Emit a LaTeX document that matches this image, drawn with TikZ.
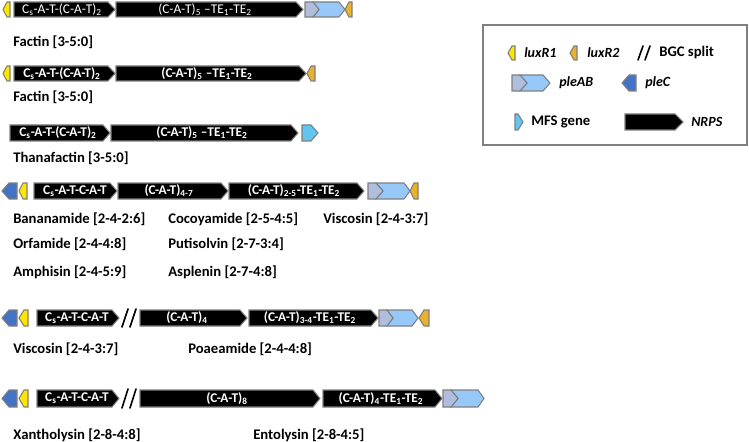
\documentclass[tikz,border=0pt]{standalone}
\usepackage{fontspec}
\setmainfont{Carlito}

\definecolor{luxyellow}{RGB}{255,230,0}
\definecolor{luxgold}{RGB}{234,178,44}
\definecolor{plea}{RGB}{176,190,222}
\definecolor{pleb}{RGB}{150,200,250}
\definecolor{plec}{RGB}{68,114,196}
\definecolor{mfsblue}{RGB}{98,196,240}
\definecolor{genegray}{RGB}{127,127,127}

\tikzset{
  gene/.style={draw=genegray, line width=0.8},
  nrps/.style={gene, fill=black},
  luxrone/.style={gene, fill=luxyellow},
  luxrtwo/.style={gene, fill=luxgold},
  pleAgene/.style={gene, fill=plea},
  pleBgene/.style={gene, fill=pleb},
  pleCgene/.style={gene, fill=plec},
  mfsgene/.style={gene, fill=mfsblue},
  split/.style={line width=1.2, line cap=round},
  domtext/.style={text=white, inner sep=0.75pt, font=\fontsize{10}{12}\selectfont\bfseries},
  domthin/.style={text=white, inner sep=0.75pt, font=\fontsize{10}{12}\selectfont},
  lbl/.style={anchor=west, inner sep=0.75pt, font=\fontsize{11}{13}\selectfont\bfseries},
  keytext/.style={anchor=west, inner sep=0.75pt, font=\fontsize{10.5}{13}\selectfont\bfseries\itshape},
}

\begin{document}
\begin{tikzpicture}[x=0.75pt,y=0.75pt,yscale=-1,xscale=1]
\useasboundingbox (0,0) rectangle (749,442);

%Row 1: Factin
\draw [luxrone] (10,2) -- (10,17) -- (7,17) -- (3,9.5) -- (7,2) -- cycle ;
\draw [nrps] (14,2) -- (108,2) -- (115,9.5) -- (108,17) -- (14,17) -- cycle ;
\draw [nrps] (116,2) -- (296,2) -- (303,9.5) -- (296,17) -- (116,17) -- cycle ;
\draw [pleBgene] (313,2) -- (339,2) -- (345,9.5) -- (339,17) -- (313,17) -- (319,9.5) -- cycle ;
\draw [pleAgene] (305,2) -- (313,2) -- (319,9.5) -- (313,17) -- (305,17) -- cycle ;
\draw [luxrtwo] (352,2) -- (352,17) -- (349,17) -- (345,9.5) -- (349,2) -- cycle ;
% Text Node
\draw (62,9.5) node [domthin] (facAone) {C\textsubscript{s}-A-T-(C-A-T)\textsubscript{2}};
\draw (205,9.5) node [domthin] (facAtwo) {(C-A-T)\textsubscript{5} --TE\textsubscript{1}-TE\textsubscript{2}};
\draw (12,42) node [lbl] (factinA) {Factin [3-5:0]};

%Row 2: Factin
\draw [luxrone] (10,66) -- (10,81) -- (7,81) -- (3,73.5) -- (7,66) -- cycle ;
\draw [nrps] (14,66) -- (108,66) -- (115,73.5) -- (108,81) -- (14,81) -- cycle ;
\draw [nrps] (116,66) -- (299,66) -- (306,73.5) -- (299,81) -- (116,81) -- cycle ;
\draw [luxrtwo] (315,66) -- (315,81) -- (311,81) -- (307,73.5) -- (311,66) -- cycle ;
% Text Node
\draw (62,73.5) node [domtext] (facBone) {C\textsubscript{s}-A-T-(C-A-T)\textsubscript{2}};
\draw (207,73.5) node [domtext] (facBtwo) {(C-A-T)\textsubscript{5} --TE\textsubscript{1}-TE\textsubscript{2}};
\draw (12,97) node [lbl] (factinB) {Factin [3-5:0]};

%Row 3: Thanafactin
\draw [nrps] (10,125) -- (103,125) -- (110,133) -- (103,141) -- (10,141) -- cycle ;
\draw [nrps] (111,125) -- (291,125) -- (298,133) -- (291,141) -- (111,141) -- cycle ;
\draw [mfsgene] (302,125) -- (311,125) -- (318,133) -- (311,141) -- (302,141) -- cycle ;
% Text Node
\draw (58,133) node [domtext] (thaone) {C\textsubscript{s}-A-T-(C-A-T)\textsubscript{2}};
\draw (202,133) node [domtext] (thatwo) {(C-A-T)\textsubscript{5} --TE\textsubscript{1}-TE\textsubscript{2}};
\draw (12,158) node [lbl] (thanafactin) {Thanafactin [3-5:0]};

%Row 4: Bananamide group
\draw [pleCgene] (17,183) -- (17,199) -- (9,199) -- (2,191) -- (9,183) -- cycle ;
\draw [luxrone] (27,183) -- (27,199) -- (23,199) -- (19,191) -- (23,183) -- cycle ;
\draw [nrps] (34,183) -- (110,183) -- (117,191) -- (110,199) -- (34,199) -- cycle ;
\draw [nrps] (118,183) -- (221,183) -- (228,191) -- (221,199) -- (118,199) -- cycle ;
\draw [nrps] (229,183) -- (357,183) -- (364,191) -- (357,199) -- (229,199) -- cycle ;
\draw [pleBgene] (376,183) -- (404,183) -- (410,191) -- (404,199) -- (376,199) -- (383,191) -- cycle ;
\draw [pleAgene] (368,183) -- (376,183) -- (383,191) -- (376,199) -- (368,199) -- cycle ;
\draw [luxrtwo] (418,183) -- (418,199) -- (414,199) -- (410,191) -- (414,183) -- cycle ;
% Text Node
\draw (75,191) node [domtext] (banone) {C\textsubscript{s}-A-T-C-A-T};
\draw (169,191) node [domtext] (bantwo) {(C-A-T)\textsubscript{4-7}};
\draw (294,191) node [domtext] (banthree) {(C-A-T)\textsubscript{2-5}-TE\textsubscript{1}-TE\textsubscript{2}};
\draw (12,219) node [lbl] (bananamide) {Bananamide [2-4-2:6]};
\draw (167,219) node [lbl] (cocoyamide) {Cocoyamide [2-5-4:5]};
\draw (322,219) node [lbl] (viscosinA) {Viscosin [2-4-3:7]};
\draw (12,244) node [lbl] (orfamide) {Orfamide [2-4-4:8]};
\draw (167,244) node [lbl] (putisolvin) {Putisolvin [2-7-3:4]};
\draw (12,272) node [lbl] (amphisin) {Amphisin [2-4-5:9]};
\draw (167,272) node [lbl] (asplenin) {Asplenin [2-7-4:8]};

%Row 5: Viscosin / Poaeamide
\draw [pleCgene] (17,310) -- (17,326) -- (9,326) -- (2,318) -- (9,310) -- cycle ;
\draw [luxrone] (28,310) -- (28,326) -- (24,326) -- (19,318) -- (24,310) -- cycle ;
\draw [nrps] (37,310) -- (112,310) -- (119,318) -- (112,326) -- (37,326) -- cycle ;
\draw [split] (122,327) -- (128,309) ;
\draw [split] (130,327) -- (136,309) ;
\draw [nrps] (140,310) -- (240,310) -- (247,318) -- (240,326) -- (140,326) -- cycle ;
\draw [nrps] (249,310) -- (371,310) -- (378,318) -- (371,326) -- (249,326) -- cycle ;
\draw [pleBgene] (387,310) -- (412,310) -- (418,318) -- (412,326) -- (387,326) -- (393,318) -- cycle ;
\draw [pleAgene] (379,310) -- (387,310) -- (393,318) -- (387,326) -- (379,326) -- cycle ;
\draw [luxrtwo] (429,310) -- (429,326) -- (424,326) -- (419,318) -- (424,310) -- cycle ;
% Text Node
\draw (77,318) node [domtext] (visone) {C\textsubscript{s}-A-T-C-A-T};
\draw (187,318) node [domtext] (vistwo) {(C-A-T)\textsubscript{4}};
\draw (310,318) node [domtext] (visthree) {(C-A-T)\textsubscript{3-4}-TE\textsubscript{1}-TE\textsubscript{2}};
\draw (12,349) node [lbl] (viscosinB) {Viscosin [2-4-3:7]};
\draw (187,349) node [lbl] (poaeamide) {Poaeamide [2-4-4:8]};

%Row 6: Xantholysin / Entolysin
\draw [pleCgene] (17,390) -- (17,407) -- (9,407) -- (2,398.5) -- (9,390) -- cycle ;
\draw [luxrone] (28,390) -- (28,407) -- (24,407) -- (19,398.5) -- (24,390) -- cycle ;
\draw [nrps] (37,390) -- (112,390) -- (119,398.5) -- (112,407) -- (37,407) -- cycle ;
\draw [split] (122,408) -- (128,389) ;
\draw [split] (130,408) -- (136,389) ;
\draw [nrps] (140,390) -- (313,390) -- (320,398.5) -- (313,407) -- (140,407) -- cycle ;
\draw [nrps] (323,390) -- (435,390) -- (442,398.5) -- (435,407) -- (323,407) -- cycle ;
\draw [pleBgene] (451,390) -- (478,390) -- (484,398.5) -- (478,407) -- (451,407) -- (458,398.5) -- cycle ;
\draw [pleAgene] (443,390) -- (451,390) -- (458,398.5) -- (451,407) -- (443,407) -- cycle ;
% Text Node
\draw (77,398.5) node [domtext] (xanone) {C\textsubscript{s}-A-T-C-A-T};
\draw (227,398.5) node [domtext] (xantwo) {(C-A-T)\textsubscript{8}};
\draw (381,398.5) node [domtext] (xanthree) {(C-A-T)\textsubscript{4}-TE\textsubscript{1}-TE\textsubscript{2}};
\draw (12,435) node [lbl] (xantholysin) {Xantholysin [2-8-4:8]};
\draw (252,435) node [lbl] (entolysin) {Entolysin [2-8-4:5]};

%Legend
\draw [draw=genegray, line width=0.8] (483,25) rectangle (747,145) ;
\draw [luxrone] (515,46) -- (515,60) -- (512,60) -- (508,53) -- (512,46) -- cycle ;
\draw (523,53) node [keytext] (keyluxrone) {luxR1};
\draw [luxrtwo] (577,46) -- (577,60) -- (574,60) -- (570,53) -- (574,46) -- cycle ;
\draw (586,53) node [keytext] (keyluxrtwo) {luxR2};
\draw [split] (638,60) -- (643,46) ;
\draw [split] (645,60) -- (650,46) ;
\draw (658,53) node [lbl] (keysplit) {BGC split};
\draw [pleBgene] (520,75) -- (543,75) -- (550,83) -- (543,91) -- (520,91) -- (527,83) -- cycle ;
\draw [pleAgene] (512,75) -- (520,75) -- (527,83) -- (520,91) -- (512,91) -- cycle ;
\draw (558,83) node [keytext] (keypleab) {pleAB};
\draw [pleCgene] (636,75) -- (636,91) -- (629,91) -- (622,83) -- (629,75) -- cycle ;
\draw (644,83) node [keytext] (keyplec) {pleC};
\draw [mfsgene] (515,114) -- (518,114) -- (523,122) -- (518,130) -- (515,130) -- cycle ;
\draw (530,122) node [lbl] (keymfs) {MFS gene};
\draw [nrps] (625,114) -- (675,114) -- (683,122) -- (675,130) -- (625,130) -- cycle ;
\draw (690,122) node [keytext] (keynrps) {NRPS};

\end{tikzpicture}
\end{document}
